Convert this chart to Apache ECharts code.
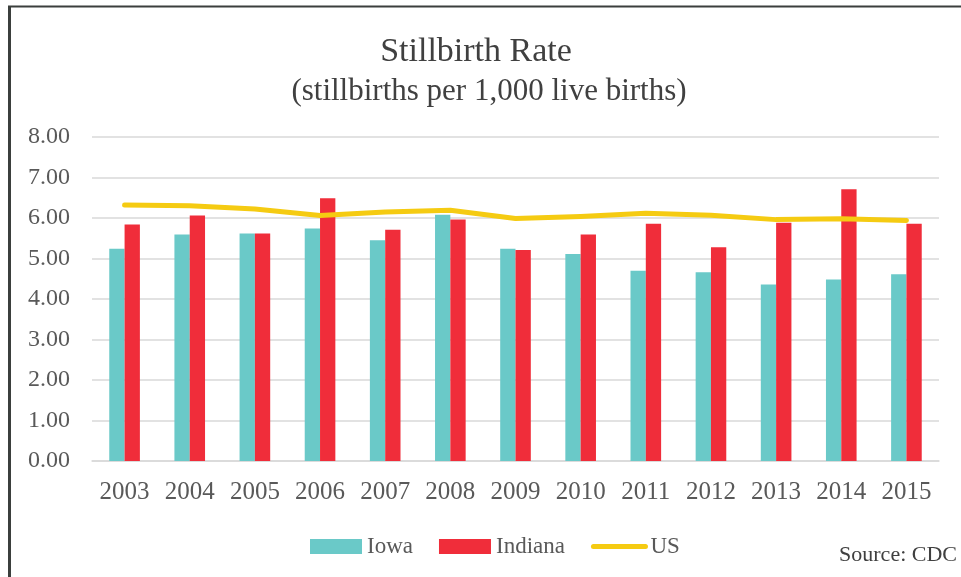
<!DOCTYPE html>
<html>
<head>
<meta charset="utf-8">
<script src="https://cdn.jsdelivr.net/npm/echarts@6/dist/echarts.min.js"></script>
<style>
html,body{margin:0;padding:0;background:#fff;}
#chart{width:961px;height:577px;}
</style>
</head>
<body>
<div id="chart"></div>
<script>
const years = ['2003','2004','2005','2006','2007','2008','2009','2010','2011','2012','2013','2014','2015'];
const iowa = [5.24, 5.59, 5.62, 5.74, 5.45, 6.08, 5.24, 5.11, 4.70, 4.66, 4.36, 4.48, 4.61];
const indiana = [5.84, 6.06, 5.62, 6.49, 5.71, 5.96, 5.21, 5.59, 5.86, 5.28, 5.88, 6.71, 5.86];
const us = [6.32, 6.30, 6.22, 6.06, 6.15, 6.19, 5.99, 6.04, 6.12, 6.07, 5.96, 5.98, 5.94];
const yTicks = {min: 0, max: 8, interval: 1};

const FONT = '"Liberation Serif", "DejaVu Serif", serif';
const chart = echarts.init(document.getElementById('chart'));
chart.setOption({
  animation: false,
  backgroundColor: '#ffffff',
  grid: {left: 92, right: 22, top: 137, bottom: 116, containLabel: false},
  legend: {
    left: 305, top: 530,
    itemWidth: 52, itemHeight: 15, itemGap: 26,
    textStyle: {fontFamily: FONT, fontSize: 23, color: '#595959'},
    data: [
      {name: 'Iowa', icon: 'rect'},
      {name: 'Indiana', icon: 'rect'},
      {name: 'US', icon: 'inherit', itemStyle: {opacity: 0},
        lineStyle: {width: 5, cap: 'round', color: '#f5cb12', opacity: 1}}
    ]
  },
  xAxis: {
    type: 'category',
    data: years,
    axisLine: {lineStyle: {color: '#d9d9d9', width: 1.5}},
    axisTick: {show: false},
    axisLabel: {fontFamily: FONT, fontSize: 25, color: '#595959', margin: 19}
  },
  yAxis: {
    type: 'value',
    min: yTicks.min, max: yTicks.max, interval: yTicks.interval,
    axisLine: {show: false},
    axisTick: {show: false},
    axisLabel: {fontFamily: FONT, fontSize: 24, color: '#595959', margin: 22,
      formatter: v => v.toFixed(2)},
    splitLine: {lineStyle: {color: '#d9d9d9', width: 1.5}}
  },
  series: [
    {name: 'Iowa', type: 'bar', data: iowa, barGap: '0%', barCategoryGap: '53%',
      itemStyle: {color: '#6ac9c8'}},
    {name: 'Indiana', type: 'bar', data: indiana, barGap: '0%', barCategoryGap: '53%',
      itemStyle: {color: '#f02d3a'}},
    {name: 'US', type: 'line', data: us, symbol: 'none', z: 5,
      lineStyle: {color: '#f5cb12', width: 5, cap: 'round', join: 'round'},
      itemStyle: {color: '#f5cb12'}}
  ],
  graphic: [
    {type: 'line', shape: {x1: 9.5, y1: 6, x2: 9.5, y2: 577}, style: {stroke: '#3b3f3d', lineWidth: 3}},
    {type: 'line', shape: {x1: 8, y1: 6.5, x2: 961, y2: 6.5}, style: {stroke: '#3b3f3d', lineWidth: 2}},
    {type: 'text', x: 476, y: 52, style: {text: 'Stillbirth Rate', align: 'center', verticalAlign: 'middle',
      font: '34px ' + FONT, fill: '#404040'}},
    {type: 'text', x: 489, y: 92, style: {text: '(stillbirths per 1,000 live births)', align: 'center', verticalAlign: 'middle',
      font: '31px ' + FONT, fill: '#404040'}},
    {type: 'text', x: 957, y: 555, style: {text: 'Source: CDC', align: 'right', verticalAlign: 'middle',
      font: '22px ' + FONT, fill: '#404040'}}
  ]
});
</script>
</body>
</html>
